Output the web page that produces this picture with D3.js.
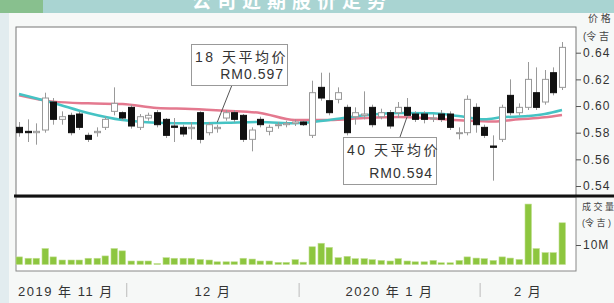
<!DOCTYPE html>
<html>
<head>
<meta charset="utf-8">
<script src="https://cdn.jsdelivr.net/npm/d3@7"></script>
<style>
body { margin: 0; background: #f6f8f7; overflow: hidden; }
svg { display: block; }
text { font-family: "Liberation Sans", "Noto Sans CJK SC", sans-serif; }
</style>
</head>
<body>
<div id="chart"></div>
<script>
// daily candles, mid Nov 2019 -> mid Feb 2020
const open = [0.584,0.581,0.580,0.582,0.603,0.590,0.593,0.594,0.578,0.580,
    0.584,0.596,0.595,0.599,0.584,0.591,0.595,0.590,0.585,0.584,
    0.583,0.595,0.580,0.583,0.591,0.595,0.593,0.575,0.590,0.581,
    0.586,0.586,0.587,0.588,0.578,0.614,0.604,0.605,0.599,0.592,
    0.593,0.599,0.592,0.595,0.595,0.599,0.594,0.594,0.591,0.594,
    0.594,0.580,0.580,0.599,0.584,0.570,0.575,0.608,0.595,0.599,
    0.610,0.603,0.625,0.614];
const close = [0.580,0.580,0.581,0.606,0.590,0.592,0.580,0.584,0.575,0.581,
    0.590,0.602,0.591,0.585,0.592,0.593,0.586,0.578,0.584,0.579,
    0.584,0.575,0.586,0.584,0.595,0.590,0.575,0.582,0.586,0.584,
    0.586,0.587,0.588,0.586,0.610,0.606,0.595,0.610,0.580,0.595,
    0.594,0.586,0.595,0.585,0.599,0.593,0.590,0.590,0.591,0.590,
    0.584,0.580,0.605,0.586,0.578,0.569,0.599,0.595,0.599,0.620,
    0.599,0.620,0.610,0.644];
const high = [0.588,0.590,0.587,0.610,0.606,0.596,0.595,0.596,0.580,0.584,
    0.592,0.614,0.596,0.601,0.594,0.595,0.597,0.591,0.591,0.586,
    0.588,0.596,0.588,0.586,0.597,0.597,0.594,0.584,0.592,0.586,
    0.588,0.589,0.590,0.589,0.619,0.625,0.625,0.614,0.601,0.599,
    0.611,0.601,0.598,0.597,0.603,0.606,0.596,0.596,0.594,0.597,
    0.596,0.584,0.608,0.602,0.586,0.578,0.601,0.620,0.602,0.633,
    0.629,0.627,0.629,0.648];
const low = [0.577,0.573,0.571,0.580,0.586,0.586,0.578,0.582,0.573,0.577,
    0.582,0.593,0.589,0.583,0.582,0.589,0.584,0.576,0.573,0.577,
    0.575,0.572,0.578,0.580,0.589,0.588,0.573,0.566,0.584,0.578,
    0.583,0.584,0.585,0.585,0.576,0.604,0.593,0.602,0.578,0.586,
    0.590,0.584,0.590,0.583,0.591,0.591,0.588,0.587,0.588,0.588,
    0.582,0.575,0.578,0.580,0.576,0.544,0.573,0.593,0.593,0.597,
    0.597,0.601,0.608,0.612];
// volume in millions
const volume = [3.9,3.2,3.2,8.2,3.9,2.3,2.3,2.3,3.2,3.2,
    4.4,8.2,7.0,1.8,1.8,1.8,0.5,3.5,3.2,3.2,
    3.2,2.6,2.3,1.4,1.4,1.4,3.2,2.8,1.8,1.8,
    1.1,1.1,2.5,1.2,9.1,10.9,8.8,3.5,4.2,3.0,
    3.0,2.5,2.1,1.8,3.0,1.8,1.4,1.4,2.1,0.9,
    0.9,2.1,3.9,3.3,3.0,2.1,3.9,3.3,2.6,31,
    8.2,6.1,6.1,21.4];

// moving averages (sampled on some days)
const ma18Days = [0,4,8,12,16,20,24,28,32,36,40,44,48,51,54,56,59,61,63];
const ma18 = [0.609,0.6023,0.5948,0.5895,0.5875,0.587,0.5875,0.588,0.587,0.5895,
    0.593,0.5948,0.5945,0.5925,0.590,0.5915,0.5925,0.594,0.597];
const ma40Days = [0,4,8,12,16,20,24,28,32,36,40,44,48,52,55,58,61,63];
const ma40 = [0.608,0.6033,0.602,0.6015,0.5985,0.5978,0.5965,0.5948,0.5895,0.5895,
    0.591,0.5918,0.5906,0.589,0.5884,0.590,0.5915,0.5933];

const monthLabels = ['2019 年 11 月', '12 月', '2020 年 1 月', '2 月'];
const monthStart = [0, 13, 33, 54];
const priceTicks = [0.54, 0.56, 0.58, 0.60, 0.62, 0.64];
const volumeTicks = [10];

const W = 614, H = 303;
const left = 16, right = 576;
const pTop = 27, pBottom = 196;
const vTop = 197, vBottom = 271;

const svg = d3.select('#chart').append('svg')
    .attr('width', W)
    .attr('height', H);

// header band
svg.append('rect').attr('x', 0).attr('y', 0).attr('width', W).attr('height', 13).attr('fill', '#a9d4d2');
svg.append('rect').attr('x', 0).attr('y', 0).attr('width', 43).attr('height', 13).attr('fill', '#88c08e');
svg.append('clipPath').attr('id', 'hdr').append('rect').attr('width', W).attr('height', 13);
svg.append('text')
    .attr('clip-path', 'url(#hdr)')
    .attr('x', 292).attr('y', 8)
    .attr('text-anchor', 'middle')
    .attr('fill', '#fff')
    .attr('font-size', 19)
    .attr('font-weight', 'bold')
    .attr('letter-spacing', 6)
    .text('公司近期股价走势');
svg.append('rect').attr('x', 0).attr('y', 13).attr('width', 9).attr('height', H - 13).attr('fill', '#e2ecef');

const x = d3.scaleLinear().domain([0, 63]).range([19, 562]);
const y = d3.scaleLinear().domain([0.54, 0.64]).range([186, 52.7]);
const v = d3.scaleLinear().domain([0, 10]).range([264.5, 245]);

// panels
svg.append('rect').attr('x', left).attr('y', pTop).attr('width', right - left).attr('height', pBottom - pTop)
    .attr('fill', '#fff').attr('stroke', '#777').attr('stroke-width', 1);
svg.append('rect').attr('x', left).attr('y', vTop).attr('width', right - left).attr('height', vBottom - vTop)
    .attr('fill', '#fff').attr('stroke', '#888').attr('stroke-width', 1);

// moving averages
const line = d3.line().x(d => x(d[0])).y(d => y(d[1])).curve(d3.curveMonotoneX);
svg.append('path').datum(d3.zip(ma40Days, ma40)).attr('d', line)
    .attr('fill', 'none').attr('stroke', '#e4798f').attr('stroke-width', 2.5);
svg.append('path').datum(d3.zip(ma18Days, ma18)).attr('d', line)
    .attr('fill', 'none').attr('stroke', '#45c3c4').attr('stroke-width', 2.5);

// candles
const days = d3.range(open.length);
const bw = 6;
const candle = svg.append('g').selectAll('g').data(days).enter().append('g');
candle.append('line')
    .attr('x1', i => Math.round(x(i)) + 0.5).attr('x2', i => Math.round(x(i)) + 0.5)
    .attr('y1', i => y(high[i])).attr('y2', i => y(low[i]))
    .attr('stroke', '#999').attr('stroke-width', 1);
candle.append('rect')
    .attr('x', i => Math.round(x(i)) - bw / 2 + 0.5)
    .attr('y', i => y(Math.max(open[i], close[i])))
    .attr('width', bw)
    .attr('height', i => Math.max(1, Math.abs(y(open[i]) - y(close[i]))))
    .attr('fill', i => close[i] < open[i] ? '#111' : '#fff')
    .attr('stroke', i => close[i] < open[i] ? '#111' : '#999')
    .attr('stroke-width', 1);

// volume bars
svg.append('g').selectAll('rect').data(days).enter().append('rect')
    .attr('x', i => Math.round(x(i)) - 3)
    .attr('y', i => v(volume[i]))
    .attr('width', 6.5)
    .attr('height', i => v(0) - v(volume[i]))
    .attr('fill', '#8dc63f')
    .attr('stroke', '#c2df93')
    .attr('stroke-width', 0.6);

// thick divider
svg.append('line').attr('x1', 14).attr('x2', W).attr('y1', 196).attr('y2', 196)
    .attr('stroke', '#111').attr('stroke-width', 3);

// right axes
const pAxis = svg.append('g').attr('transform', `translate(${right},0)`)
    .call(d3.axisRight(y).tickValues(priceTicks).tickFormat(d3.format('.2f')).tickSize(5).tickPadding(2));
const vAxis = svg.append('g').attr('transform', `translate(${right},0)`)
    .call(d3.axisRight(v).tickValues(volumeTicks).tickFormat(d => d + 'M').tickSize(5).tickPadding(2));
[pAxis, vAxis].forEach(g => {
    g.select('.domain').remove();
    g.selectAll('line').attr('stroke', '#555');
    g.selectAll('text').attr('fill', '#333').attr('font-size', 12).attr('letter-spacing', 1)
        .attr('font-family', '"Liberation Sans", sans-serif');
});

const axisTitle = [['价 格', 588, 22], ['(令 吉', 583, 40], ['成 交 量', 582, 210], ['(令 吉 )', 582, 226]];
svg.selectAll('.atitle').data(axisTitle).enter().append('text')
    .attr('class', 'atitle')
    .attr('x', d => d[1]).attr('y', d => d[2])
    .attr('font-size', d => d[2] > 200 ? 9 : 10)
    .attr('fill', '#444')
    .text(d => d[0]);

// month labels + separators
const bounds = monthStart.map(i => i === 0 ? left : x(i - 0.5)).concat([right]);
monthStart.slice(1).forEach(i => {
    svg.append('line').attr('x1', x(i - 0.5)).attr('x2', x(i - 0.5)).attr('y1', 283).attr('y2', 297)
        .attr('stroke', '#bbb').attr('stroke-width', 1);
});
svg.selectAll('.mlabel').data(monthLabels).enter().append('text')
    .attr('class', 'mlabel')
    .attr('x', (d, k) => k === 0 ? bounds[0] + 2 : (bounds[k] + bounds[k + 1]) / 2)
    .attr('y', 296)
    .attr('text-anchor', (d, k) => k === 0 ? 'start' : 'middle')
    .attr('font-size', 13)
    .attr('letter-spacing', 1.5)
    .attr('fill', '#333')
    .text(d => d);

// annotation boxes
function note(x0, y0, w, h, l1, l2) {
    svg.append('rect').attr('x', x0 + 0.5).attr('y', y0 + 0.5).attr('width', w).attr('height', h)
        .attr('fill', '#fff').attr('stroke', '#999');
    svg.append('text').attr('x', x0 + 4).attr('y', y0 + 18).attr('font-size', 14).attr('letter-spacing', 2.5)
        .attr('fill', '#333').text(l1);
    svg.append('text').attr('x', x0 + w - 3).attr('y', y0 + h - 6).attr('font-size', 14).attr('letter-spacing', 1)
        .attr('text-anchor', 'end').attr('fill', '#333').text(l2);
}
svg.append('line').attr('x1', 232).attr('y1', 85).attr('x2', x(23)).attr('y2', y(0.5878)).attr('stroke', '#555');
svg.append('line').attr('x1', 400).attr('y1', 137).attr('x2', x(45)).attr('y2', y(0.5915)).attr('stroke', '#555');
note(191, 44, 96, 41, '18 天平均价', 'RM' + d3.format('.3f')(ma18[ma18.length - 1]));
note(343, 137, 93, 47, '40 天平均价', 'RM0.594');
</script>
</body>
</html>
